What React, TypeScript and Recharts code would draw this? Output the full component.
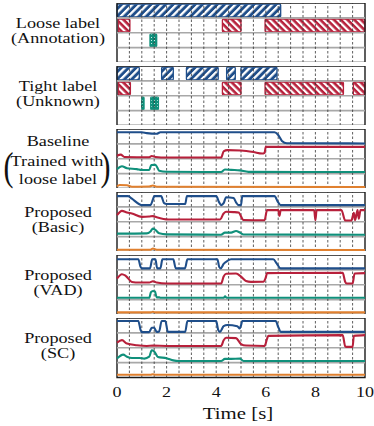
import React from 'react';
import { ComposedChart, Line, XAxis, YAxis, ReferenceArea, ReferenceLine } from 'recharts';

// ---------- data ----------
// label segments [start, end] in seconds
const looseBlue: number[][] = [[0, 6.6]];
const looseRed: number[][] = [[0.05, 0.52], [4.25, 5.0], [5.97, 10]];
const looseGreen: number[][] = [[1.33, 1.6]];
const looseOrange: number[][] = [];

const tightBlue: number[][] = [[0, 0.9], [1.8, 2.27], [2.8, 4.08], [4.42, 4.77], [5.0, 6.45]];
const tightRed: number[][] = [[0.05, 0.54], [4.25, 5.0], [5.97, 9.13], [9.53, 10]];
const tightGreen: number[][] = [[1.0, 1.09], [1.36, 1.67]];
const tightOrange: number[][] = [];

// posterior curves [time, probability]
const baseBlue = [[0, 0.78], [1.0, 0.78], [1.2, 0.72], [1.6, 0.68], [1.75, 0.78], [6.35, 0.78], [6.5, 0.6], [6.65, 0.2], [6.85, 0.04], [10, 0.03]];
const baseRed = [[0, 0.2], [0.15, 0.28], [0.3, 0.12], [1.3, 0.1], [1.4, 0.18], [1.55, 0.12], [2, 0.08], [4.2, 0.08], [4.3, 0.5], [4.45, 0.58], [5.0, 0.55], [5.5, 0.45], [5.85, 0.35], [5.95, 0.4], [6.0, 0.8], [10, 0.8]];
const baseGreen = [[0, 0.3], [0.2, 0.5], [0.4, 0.36], [0.8, 0.3], [1.0, 0.24], [1.3, 0.24], [1.38, 0.58], [1.55, 0.6], [1.7, 0.2], [2, 0.13], [4.2, 0.11], [4.35, 0.28], [4.6, 0.25], [4.95, 0.22], [5.3, 0.12], [10, 0.11]];
const baseOrange = [[0, 0.14], [0.1, 0.24], [0.4, 0.22], [0.6, 0.12], [1.3, 0.13], [1.45, 0.2], [1.6, 0.12], [10, 0.1]];

const basicBlue = [[0, 0.72], [0.45, 0.72], [0.6, 0.55], [0.9, 0.18], [1.0, 0.12], [1.35, 0.12], [1.45, 0.5], [1.5, 0.72], [1.78, 0.72], [1.9, 0.25], [2.0, 0.19], [2.75, 0.19], [2.82, 0.72], [4.0, 0.72], [4.12, 0.3], [4.2, 0.12], [4.3, 0.25], [4.4, 0.65], [4.7, 0.6], [4.8, 0.3], [4.9, 0.12], [5.0, 0.12], [5.05, 0.72], [6.35, 0.72], [6.5, 0.3], [6.6, 0.12], [10, 0.12]];
const basicRed = [[0, 0.44], [0.2, 0.73], [0.4, 0.62], [0.6, 0.55], [1.0, 0.33], [1.3, 0.35], [1.45, 0.38], [1.6, 0.3], [2.07, 0.15], [4.15, 0.15], [4.3, 0.55], [4.4, 0.67], [4.7, 0.65], [4.9, 0.62], [5.1, 0.12], [5.95, 0.1], [6.05, 0.78], [6.5, 0.78], [6.55, 0.4], [6.6, 0.78], [7.95, 0.78], [8.0, 0.1], [8.05, 0.78], [9.05, 0.78], [9.2, 0.08], [9.45, 0.08], [9.55, 0.6], [9.6, 0.1], [9.7, 0.78], [9.75, 0.2], [9.82, 0.78], [10, 0.78]];
const basicGreen = [[0, 0.2], [1.2, 0.22], [1.35, 0.35], [1.45, 0.54], [1.55, 0.45], [1.7, 0.22], [2, 0.15], [4.2, 0.13], [4.35, 0.27], [4.6, 0.27], [4.8, 0.38], [4.95, 0.28], [5.1, 0.14], [10, 0.13]];
const basicOrange = [[0, 0.12], [1.35, 0.12], [1.45, 0.2], [1.6, 0.12], [10, 0.1]];

const vadBlue = [[0, 0.71], [0.86, 0.71], [0.95, 0.2], [1.0, 0.1], [1.33, 0.1], [1.42, 0.71], [1.55, 0.71], [1.62, 0.1], [1.75, 0.1], [1.83, 0.71], [2.27, 0.71], [2.37, 0.1], [2.74, 0.1], [2.84, 0.71], [4.05, 0.71], [4.12, 0.2], [4.18, 0.1], [4.3, 0.4], [4.45, 0.6], [4.6, 0.71], [6.3, 0.71], [6.45, 0.4], [6.6, 0.1], [10, 0.1]];
const vadRed = [[0, 0.42], [0.2, 0.71], [0.35, 0.6], [0.6, 0.19], [0.9, 0.15], [1.3, 0.15], [1.45, 0.24], [1.6, 0.15], [2, 0.08], [4.2, 0.08], [4.3, 0.55], [4.4, 0.74], [4.8, 0.76], [5.0, 0.55], [5.2, 0.25], [5.4, 0.19], [5.9, 0.2], [6.0, 0.5], [6.05, 0.78], [9.1, 0.8], [9.2, 0.2], [9.26, 0.08], [9.5, 0.08], [9.58, 0.76], [10, 0.78]];
const vadGreen = [[0, 0.13], [1.3, 0.13], [1.37, 0.5], [1.45, 0.58], [1.53, 0.55], [1.6, 0.15], [1.7, 0.15], [1.75, 0.13], [4.3, 0.13], [4.36, 0.22], [4.42, 0.13], [10, 0.13]];
const vadOrange = [[0, 0.14], [1.35, 0.14], [1.45, 0.18], [1.55, 0.14], [10, 0.14]];

const scBlue = [[0, 0.8], [0.86, 0.8], [0.95, 0.2], [1.0, 0.05], [1.3, 0.05], [1.4, 0.34], [1.5, 0.34], [1.6, 0.07], [1.7, 0.1], [1.8, 0.8], [1.95, 0.8], [2.05, 0.07], [2.75, 0.07], [2.84, 0.8], [4.0, 0.8], [4.08, 0.2], [4.15, 0.07], [4.3, 0.45], [4.45, 0.53], [4.85, 0.45], [4.95, 0.3], [5.0, 0.5], [5.05, 0.8], [6.4, 0.8], [6.5, 0.4], [6.6, 0.07], [10, 0.07]];
const scRed = [[0, 0.35], [0.2, 0.51], [0.4, 0.28], [0.8, 0.17], [1.2, 0.12], [1.45, 0.14], [2, 0.12], [4.2, 0.12], [4.3, 0.5], [4.4, 0.67], [4.8, 0.65], [5.0, 0.25], [5.2, 0.15], [5.95, 0.12], [6.05, 0.6], [6.1, 0.8], [9.1, 0.85], [9.2, 0.1], [9.25, 0.06], [9.5, 0.06], [9.55, 0.8], [10, 0.85]];
const scGreen = [[0, 0.27], [0.25, 0.54], [0.4, 0.4], [0.6, 0.31], [0.9, 0.31], [1.1, 0.27], [1.3, 0.4], [1.4, 0.83], [1.5, 0.75], [1.65, 0.38], [2.0, 0.3], [2.27, 0.15], [2.5, 0.11], [4.2, 0.11], [4.35, 0.25], [4.6, 0.25], [4.95, 0.27], [5.1, 0.11], [10, 0.11]];
const scOrange = [[0, 0.18], [1.35, 0.18], [1.45, 0.22], [1.55, 0.18], [10, 0.18]];

const xTicks = [0, 2, 4, 6, 8, 10];
const gridTimes = [0.5, 1, 1.5, 2, 2.5, 3, 3.5, 4, 4.5, 5, 5.5, 6, 6.5, 7, 7.5, 8, 8.5, 9, 9.5];
const rowLines = [1, 2, 3];
const xLabel = 'Time [s]';

const panelLabels: string[][] = [
  ['Loose label', '(Annotation)'],
  ['Tight label', '(Unknown)'],
  ['Baseline', 'Trained with', 'loose label'],
  ['Proposed', '(Basic)'],
  ['Proposed', '(VAD)'],
  ['Proposed', '(SC)'],
];

// ---------- style ----------
const COLORS = ['#1f4e8a', '#b7203b', '#10907b', '#e0802f'];
const PATTERNS = ['url(#hBlue)', 'url(#hRed)', 'url(#hGreen)', 'url(#hOrange)'];
const OFFSETS = [3, 2, 1, 0];
const W = 374;
const ML = 117;
const MR = 9;
const PH = 59.5;
const PITCH = 63;
const TOP0 = 2.5;
const SERIF = '"Liberation Serif", "Times New Roman", serif';
const SX = 1.3;
const FS = 14;

function Grid() {
  return [
    ...rowLines.map((y) => (
      <ReferenceLine key={'h' + y} y={y} stroke="#a8a8a8" strokeWidth={1.6} />
    )),
    ...gridTimes.map((t) => (
      <ReferenceLine key={'v' + t} x={t} stroke="#333" strokeWidth={0.8} strokeDasharray="2.5 2" />
    )),
  ];
}

function Frame() {
  return <ReferenceArea x1={0} x2={10} y1={0} y2={4} fill="none" fillOpacity={0} stroke="#1a1a1a" strokeWidth={1.4} />;
}

function STxt({ x, y, size, sx, children }: { x: number; y: number; size: number; sx: number; children: any }) {
  return (
    <text transform={`translate(${x},${y}) scale(${sx},1)`} textAnchor="middle" fontFamily={SERIF} fontSize={size} fill="#111">
      {children}
    </text>
  );
}

function StretchTick(props: any) {
  const { x, y, payload } = props;
  return <STxt x={x} y={y + 10.7} size={15} sx={1.2}>{payload.value}</STxt>;
}

function AxisTitle(props: any) {
  const vb = props.viewBox || { x: ML, y: 0, width: W - ML - MR, height: 48 };
  return <STxt x={vb.x + vb.width / 2 - 3} y={vb.y + 41} size={16} sx={1.3}>{xLabel}</STxt>;
}

function LabelPanel({ top, segs }: { top: number; segs: number[][][] }) {
  return (
    <div style={{ position: 'absolute', left: 0, top }}>
      <ComposedChart width={W} height={PH} margin={{ top: 0, right: MR, bottom: 0, left: ML }}>
        <XAxis type="number" dataKey="t" domain={[0, 10]} hide />
        <YAxis type="number" domain={[0, 4]} hide />
        <Line data={[{ t: 0, v: 0 }, { t: 10, v: 0 }]} dataKey="v" stroke="none" dot={false} activeDot={false} isAnimationActive={false} />
        {Grid()}
        {segs.map((list, ci) =>
          list.map((s, i) => (
            <ReferenceArea
              key={ci + '-' + i}
              x1={s[0]}
              x2={s[1]}
              y1={OFFSETS[ci] + 0.06}
              y2={OFFSETS[ci] + 0.92}
              fill={PATTERNS[ci]}
              fillOpacity={1}
              stroke={COLORS[ci]}
              strokeWidth={1.3}
              radius={1}
            />
          ))
        )}
        {Frame()}
      </ComposedChart>
    </div>
  );
}

function CurvePanel({ top, curves, axis }: { top: number; curves: number[][][]; axis?: boolean }) {
  return (
    <div style={{ position: 'absolute', left: 0, top }}>
      <ComposedChart width={W} height={axis ? PH + 48 : PH} margin={{ top: 0, right: MR, bottom: 0, left: ML }}>
        <XAxis
          type="number"
          dataKey="t"
          domain={[0, 10]}
          ticks={xTicks}
          hide={!axis}
          height={48}
          axisLine={false}
          tickLine={false}
          tickMargin={3}
          tick={<StretchTick />}
          label={<AxisTitle />}
        />
        <YAxis type="number" domain={[0, 4]} hide />
        {Grid()}
        {curves.map((pts, ci) => (
          <Line
            key={ci}
            data={pts.map((p) => ({ t: p[0], v: OFFSETS[ci] + p[1] }))}
            dataKey="v"
            type="monotone"
            stroke={COLORS[ci]}
            strokeWidth={2.1}
            dot={false}
            activeDot={false}
            isAnimationActive={false}
          />
        ))}
        {Frame()}
      </ComposedChart>
    </div>
  );
}

function Labels() {
  const cx = 58;
  return (
    <svg width={W} height={426} style={{ position: 'absolute', left: 0, top: 0, pointerEvents: 'none' }}>
      {panelLabels.map((lines, i) => {
        const c = TOP0 + i * PITCH + PH / 2;
        if (lines.length === 3) {
          return (
            <g key={i}>
              <STxt x={cx} y={c - 12.3} size={FS} sx={SX}>{lines[0]}</STxt>
              <STxt x={cx - 1} y={c + 7.3} size={FS} sx={SX}>{lines[1]}</STxt>
              <STxt x={cx} y={c + 25.8} size={FS} sx={SX}>{lines[2]}</STxt>
              <STxt x={8.5} y={c + 22} size={40} sx={0.75}>(</STxt>
              <STxt x={105.5} y={c + 22} size={40} sx={0.75}>)</STxt>
            </g>
          );
        }
        return (
          <g key={i}>
            <STxt x={cx} y={c - 4.5} size={FS} sx={SX}>{lines[0]}</STxt>
            <STxt x={cx} y={c + 11} size={FS} sx={SX}>{lines[1]}</STxt>
          </g>
        );
      })}
    </svg>
  );
}

export default function App() {
  return (
    <div style={{ position: 'absolute', left: 0, top: 0, width: W, height: 426, background: '#fff' }}>
      <svg width={0} height={0} style={{ position: 'absolute' }}>
        <defs>
          <pattern id="hBlue" patternUnits="userSpaceOnUse" width={5.2} height={5.2} patternTransform="rotate(45)">
            <rect width={5.2} height={5.2} fill="#1f4e8a" />
            <rect width={2.3} height={5.2} fill="#fff" />
          </pattern>
          <pattern id="hRed" patternUnits="userSpaceOnUse" width={4.8} height={4.8} patternTransform="rotate(-45)">
            <rect width={4.8} height={4.8} fill="#b7203b" />
            <rect width={2.2} height={4.8} fill="#fff" />
          </pattern>
          <pattern id="hGreen" patternUnits="userSpaceOnUse" width={3} height={3}>
            <rect width={3} height={3} fill="#10907b" />
            <rect x={1} y={1} width={1} height={1} fill="#cfeee8" />
          </pattern>
          <pattern id="hOrange" patternUnits="userSpaceOnUse" width={4} height={4}>
            <rect width={4} height={4} fill="#e0802f" />
          </pattern>
        </defs>
      </svg>
      <LabelPanel top={TOP0} segs={[looseBlue, looseRed, looseGreen, looseOrange]} />
      <LabelPanel top={TOP0 + PITCH} segs={[tightBlue, tightRed, tightGreen, tightOrange]} />
      <CurvePanel top={TOP0 + 2 * PITCH} curves={[baseBlue, baseRed, baseGreen, baseOrange]} />
      <CurvePanel top={TOP0 + 3 * PITCH} curves={[basicBlue, basicRed, basicGreen, basicOrange]} />
      <CurvePanel top={TOP0 + 4 * PITCH} curves={[vadBlue, vadRed, vadGreen, vadOrange]} />
      <CurvePanel top={TOP0 + 5 * PITCH} curves={[scBlue, scRed, scGreen, scOrange]} axis />
      <Labels />
    </div>
  );
}
